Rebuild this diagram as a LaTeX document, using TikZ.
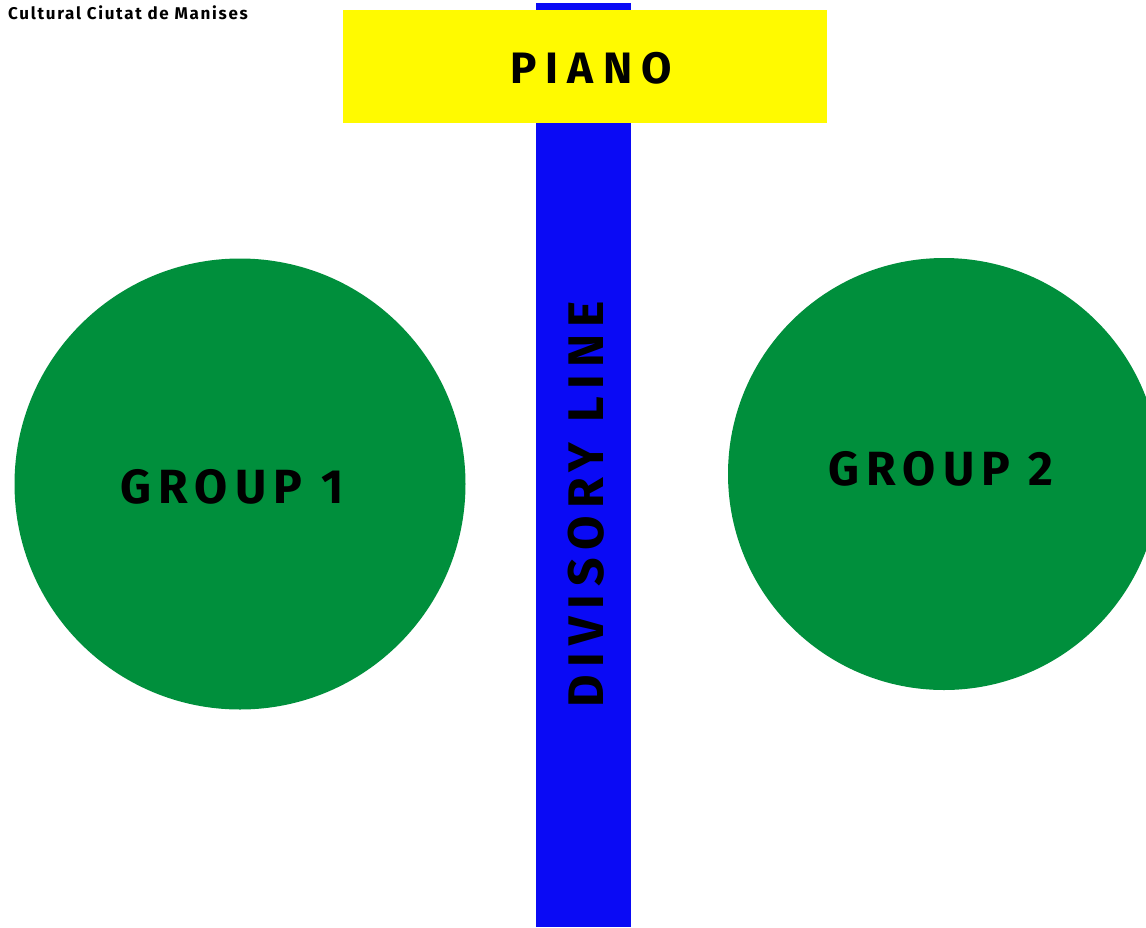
\documentclass[tikz,border=0pt]{standalone}
\usepackage{fontspec}
\setmainfont{Fira Sans}
\newfontfamily\pianofont[LetterSpace=21]{Fira Sans}
\newfontfamily\groupfont[LetterSpace=15]{Fira Sans}
\newfontfamily\divfont[LetterSpace=15]{Fira Sans}
\newfontfamily\smallwide[LetterSpace=10]{Fira Sans}
\definecolor{barblue}{HTML}{0A0AF5}
\definecolor{pianoyellow}{HTML}{FFFA00}
\definecolor{groupgreen}{HTML}{008F3C}
\begin{document}
\begin{tikzpicture}[x=1pt,y=-1pt,
  lbl/.style={text=black, inner sep=0pt},
  grp/.style={circle, fill=groupgreen, draw=none, inner sep=0pt}]
\useasboundingbox[fill=white] (0,0) rectangle (1146,927);
\fill[barblue] (536,3) rectangle (631,927);
\node[fill=pianoyellow, minimum width=484pt, minimum height=113pt, inner sep=0pt, anchor=north west] (piano) at (343,10) {};
\node[lbl, font=\pianofont\bfseries\fontsize{44}{44}\selectfont] (pianotxt) at (591,68) {PIANO};
\node[grp, minimum size=451pt] (g1) at (240,484) {};
\node[lbl, font=\groupfont\bfseries\fontsize{48}{48}\selectfont] (g1txt) at (232,487) {GROUP 1};
\node[grp, minimum size=432pt] (g2) at (944,474) {};
\node[lbl, font=\groupfont\bfseries\fontsize{48}{48}\selectfont] (g2txt) at (941,469) {GROUP 2};
\node[lbl, rotate=90, font=\divfont\bfseries\fontsize{50}{50}\selectfont] (div) at (586,504) {DIVISORY LINE};
\node[font=\smallwide\bfseries\fontsize{17}{17}\selectfont, anchor=west, inner sep=0pt] (hdr) at (8,13) {Cultural Ciutat de Manises};
\end{tikzpicture}
\end{document}
